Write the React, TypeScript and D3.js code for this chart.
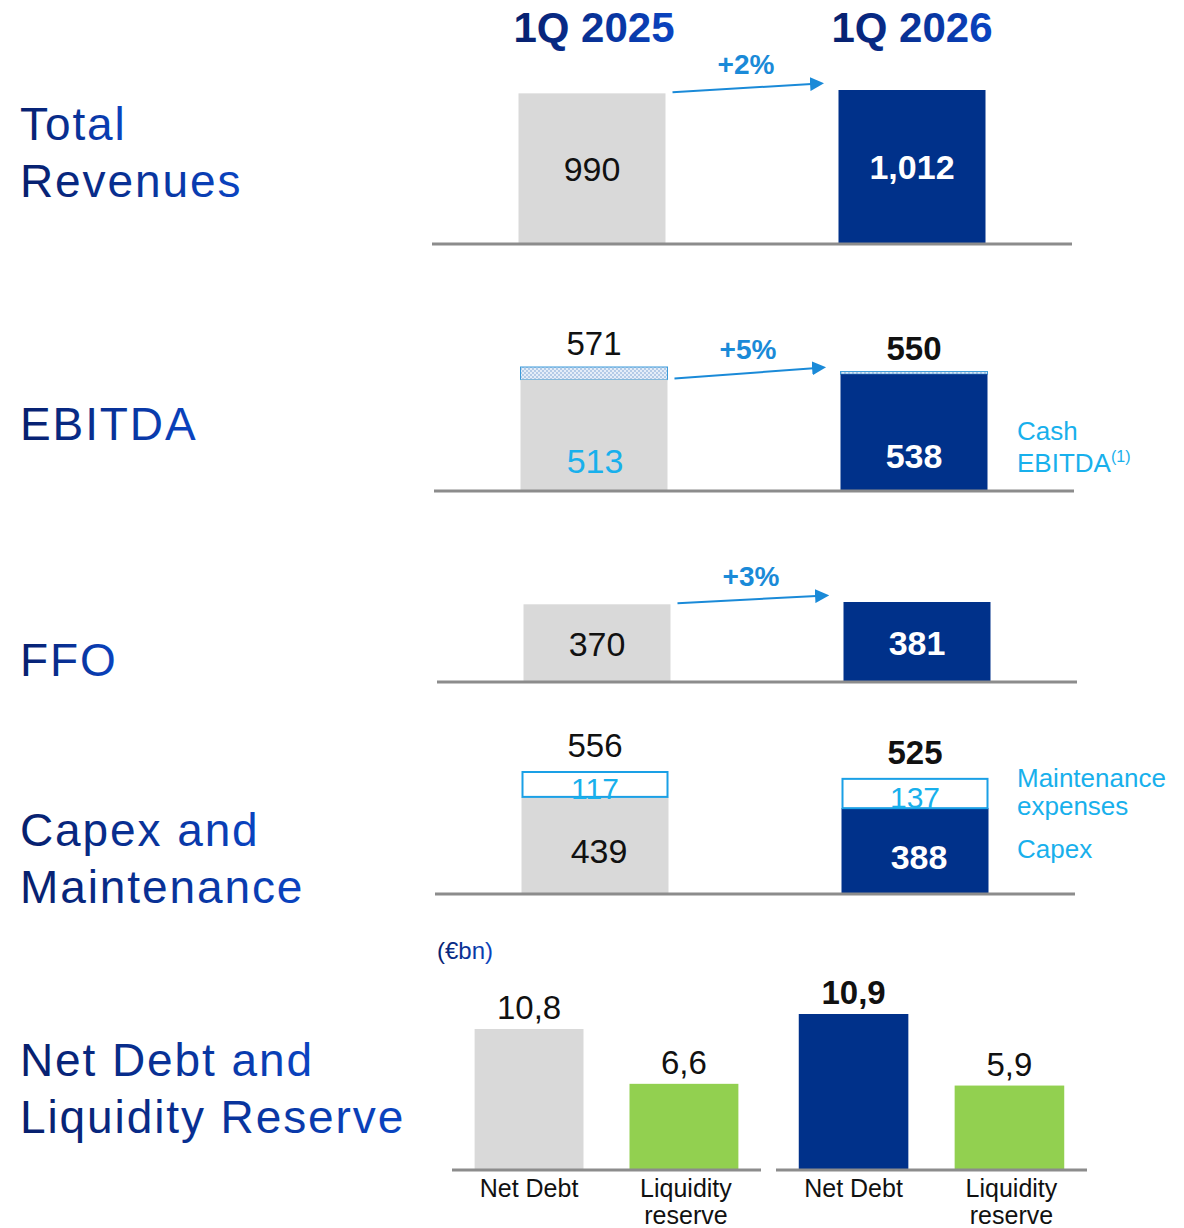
import React from "react";
import * as d3 from "d3";

// ---------- data ----------
const periods = ["1Q 2025", "1Q 2026"];
const revenue = [990, 1012];
const ebitda = [571, 550];
const cashEbitda = [513, 538];
const ffo = [370, 381];
const capexTotal = [556, 525];
const capex = [439, 388];
const maintenance = [117, 137];
const growthLabels = ["+2%", "+5%", "+3%"];
const debtCategories = ["Net Debt", "Liquidity reserve"];
const debt2025 = [10.8, 6.6];
const debt2026 = [10.9, 5.9];
const sectionTitles = [
  ["Total", "Revenues"],
  ["EBITDA"],
  ["FFO"],
  ["Capex and", "Maintenance"],
  ["Net Debt and", "Liquidity Reserve"],
];

// ---------- style ----------
const W = 1184;
const H = 1228;
const GRAY = "#d9d9d9";
const NAVY = "#00318a";
const GREEN = "#92d050";
const LIGHT = "#18b0ec";
const ARROW = "#1a8ad8";
const AXIS = "#8c8c8c";
const FONT = "'Liberation Sans', Arial, sans-serif";
const BAR_W = 147;

const fmtThousands = d3.format(",");
const euLocale = d3.formatLocale({ decimal: ",", thousands: ".", grouping: [3], currency: ["€", ""] });
const fmtDebt = euLocale.format(".1f");

type Panel = { base: number; top: number; dx: number; max: number };

function xScale(dx: number) {
  return d3.scalePoint<string>().domain(periods).range([593 + dx, 913 + dx]);
}

function Axis({ x, base }: { x: d3.ScalePoint<string>; base: number }) {
  const a = x(periods[0])! - 160;
  const b = x(periods[1])! + 160;
  return <line x1={a} x2={b} y1={base} y2={base} stroke={AXIS} strokeWidth={3} />;
}

function Growth({ x1, y1, x2, y2, label }: { x1: number; y1: number; x2: number; y2: number; label: string }) {
  return (
    <g>
      <line x1={x1} y1={y1} x2={x2} y2={y2} stroke={ARROW} strokeWidth={2} markerEnd="url(#arrowHead)" />
      <text x={(x1 + x2) / 2 + 4} y={(y1 + y2) / 2 - 14} textAnchor="middle" fontFamily={FONT} fontWeight="bold" fontSize={28} fill={ARROW}>
        {label}
      </text>
    </g>
  );
}

function App() {
  // Revenues
  const pRev: Panel = { base: 244, top: 90, dx: -1, max: 1012 };
  const xRev = xScale(pRev.dx);
  const yRev = d3.scaleLinear().domain([0, pRev.max]).range([pRev.base, pRev.top]);

  // EBITDA
  const pEb: Panel = { base: 491, top: 367, dx: 1, max: 571 };
  const xEb = xScale(pEb.dx);
  const yEb = d3.scaleLinear().domain([0, pEb.max]).range([pEb.base, pEb.top]);

  // FFO
  const pFfo: Panel = { base: 682, top: 602, dx: 4, max: 381 };
  const xFfo = xScale(pFfo.dx);
  const yFfo = d3.scaleLinear().domain([0, pFfo.max]).range([pFfo.base, pFfo.top]);

  // Capex
  const pCap: Panel = { base: 894, top: 771, dx: 2, max: 556 };
  const xCap = xScale(pCap.dx);
  const yCap = d3.scaleLinear().domain([0, pCap.max]).range([pCap.base, pCap.top]);

  // Debt
  const debtBase = 1170;
  const xDebtL = d3.scaleBand<string>().domain(debtCategories).range([452, 761]).paddingInner(0.297).paddingOuter(0.146);
  const xDebtR = d3.scaleBand<string>().domain(debtCategories).range([776, 1087]).paddingInner(0.297).paddingOuter(0.146);
  const yDebtL = d3.scaleLinear().domain([0, 10.8]).range([debtBase, 1029]);
  const yDebtR = d3.scaleLinear().domain([0, 10.9]).range([debtBase, 1014]);

  const barFill = (i: number) => (i === 0 ? GRAY : NAVY);
  const valFill = (i: number) => (i === 0 ? "#111" : "#fff");
  const valWeight = (i: number) => (i === 0 ? "normal" : "bold");

  const titleY = [[140, 197], [440], [676], [846, 903], [1076, 1133]];

  const arrow = (x: d3.ScalePoint<string>, ya: number, yb: number, label: string) => (
    <Growth
      x1={x(periods[0])! + BAR_W / 2 + 7}
      y1={ya - 1}
      x2={x(periods[1])! - BAR_W / 2 - 27}
      y2={yb - 6}
      label={label}
    />
  );

  return (
    <svg width={W} height={H} style={{ position: "absolute", left: 0, top: 0, background: "#fff" }}>
      <defs>
        <linearGradient id="navyText" x1="0" x2="1" y1="0" y2="0">
          <stop offset="0" stopColor="#071f6c" />
          <stop offset="1" stopColor="#0a44c2" />
        </linearGradient>
        <pattern id="dots" width="4" height="4" patternUnits="userSpaceOnUse">
          <rect width="4" height="4" fill="#e4edf8" />
          <circle cx="1" cy="1" r="0.9" fill="#9dbbe0" />
          <circle cx="3" cy="3" r="0.9" fill="#9dbbe0" />
        </pattern>
        <marker id="arrowHead" viewBox="0 0 10 10" refX="1" refY="5" markerWidth="7" markerHeight="7" orient="auto" markerUnits="strokeWidth">
          <path d="M0,0 L10,5 L0,10 Z" fill={ARROW} />
        </marker>
      </defs>

      {/* section titles */}
      {sectionTitles.map((lines, i) =>
        lines.map((t, j) => (
          <text key={`${i}-${j}`} x={20} y={titleY[i][j]} fontFamily={FONT} fontSize={46} letterSpacing={1.9} fill="url(#navyText)">
            {t}
          </text>
        ))
      )}

      {/* headers */}
      {periods.map((p, i) => (
        <text key={p} x={xRev(p)! + (i === 0 ? 2 : 0)} y={42} textAnchor="middle" fontFamily={FONT} fontWeight="bold" fontSize={42} fill="url(#navyText)">
          {p}
        </text>
      ))}

      {/* ---- Revenues ---- */}
      {revenue.map((v, i) => (
        <g key={`rev${i}`}>
          <rect x={xRev(periods[i])! - BAR_W / 2} y={yRev(v)} width={BAR_W} height={pRev.base - yRev(v)} fill={barFill(i)} />
          <text x={xRev(periods[i])!} y={(yRev(v) + pRev.base) / 2 + 12} textAnchor="middle" fontFamily={FONT} fontSize={34} fontWeight={valWeight(i)} fill={valFill(i)}>
            {fmtThousands(v)}
          </text>
        </g>
      ))}
      <Axis x={xRev} base={pRev.base} />
      {arrow(xRev, yRev(revenue[0]), yRev(revenue[1]), growthLabels[0])}

      {/* ---- EBITDA ---- */}
      {ebitda.map((v, i) => {
        const cx = xEb(periods[i])!;
        const c = cashEbitda[i];
        return (
          <g key={`eb${i}`}>
            <rect x={cx - BAR_W / 2} y={yEb(v)} width={BAR_W} height={yEb(c) - yEb(v)} fill="url(#dots)" stroke="#3a9ad9" strokeWidth={1} />
            <rect x={cx - BAR_W / 2} y={yEb(c)} width={BAR_W} height={pEb.base - yEb(c)} fill={barFill(i)} />
            <text x={cx} y={yEb(v) - 12} textAnchor="middle" fontFamily={FONT} fontSize={33} fontWeight={valWeight(i)} fill="#111">
              {fmtThousands(v)}
            </text>
            <text x={cx + (i === 0 ? 1 : 0)} y={pEb.base - 20 + (i === 0 ? 2 : -3)} textAnchor="middle" fontFamily={FONT} fontSize={34} fontWeight={valWeight(i)} fill={i === 0 ? LIGHT : "#fff"}>
              {fmtThousands(c)}
            </text>
          </g>
        );
      })}
      <Axis x={xEb} base={pEb.base} />
      {arrow(xEb, yEb(cashEbitda[0]), yEb(cashEbitda[1]), growthLabels[1])}
      <text x={1017} y={440} fontFamily={FONT} fontSize={26} fill={LIGHT}>Cash</text>
      <text x={1017} y={472} fontFamily={FONT} fontSize={26} fill={LIGHT}>
        EBITDA<tspan fontSize={16} dy={-10}>(1)</tspan>
      </text>

      {/* ---- FFO ---- */}
      {ffo.map((v, i) => (
        <g key={`ffo${i}`}>
          <rect x={xFfo(periods[i])! - BAR_W / 2} y={yFfo(v)} width={BAR_W} height={pFfo.base - yFfo(v)} fill={barFill(i)} />
          <text x={xFfo(periods[i])!} y={(yFfo(v) + pFfo.base) / 2 + 13} textAnchor="middle" fontFamily={FONT} fontSize={34} fontWeight={valWeight(i)} fill={valFill(i)}>
            {fmtThousands(v)}
          </text>
        </g>
      ))}
      <Axis x={xFfo} base={pFfo.base} />
      {arrow(xFfo, yFfo(ffo[0]), yFfo(ffo[1]), growthLabels[2])}

      {/* ---- Capex ---- */}
      {capexTotal.map((v, i) => {
        const cx = xCap(periods[i])!;
        const c = capex[i];
        const m = maintenance[i];
        const yTop = yCap(c + m);
        return (
          <g key={`cap${i}`}>
            <rect x={cx - BAR_W / 2} y={yCap(c)} width={BAR_W} height={pCap.base - yCap(c)} fill={barFill(i)} />
            <rect x={cx - BAR_W / 2 + 1} y={yTop + 1} width={BAR_W - 2} height={yCap(c) - yTop - 1} fill="#fff" stroke="#1aa0e6" strokeWidth={2} />
            <text x={cx} y={yTop - 14} textAnchor="middle" fontFamily={FONT} fontSize={33} fontWeight={valWeight(i)} fill="#111">
              {fmtThousands(v)}
            </text>
            <text x={cx} y={(yTop + yCap(c)) / 2 + 15} textAnchor="middle" fontFamily={FONT} fontSize={30} fill={LIGHT}>
              {fmtThousands(m)}
            </text>
            <text x={cx + 4} y={(yCap(c) + pCap.base) / 2 + 18} textAnchor="middle" fontFamily={FONT} fontSize={34} fontWeight={valWeight(i)} fill={valFill(i)}>
              {fmtThousands(c)}
            </text>
          </g>
        );
      })}
      <Axis x={xCap} base={pCap.base} />
      <text x={1017} y={787} fontFamily={FONT} fontSize={26} fill={LIGHT}>Maintenance</text>
      <text x={1017} y={815} fontFamily={FONT} fontSize={26} fill={LIGHT}>expenses</text>
      <text x={1017} y={858} fontFamily={FONT} fontSize={26} fill={LIGHT}>Capex</text>

      {/* ---- Net debt & liquidity ---- */}
      <text x={437} y={959} fontFamily={FONT} fontSize={24} fill="url(#navyText)">(€bn)</text>
      {[
        { vals: debt2025, x: xDebtL, y: yDebtL, yr: 0 },
        { vals: debt2026, x: xDebtR, y: yDebtR, yr: 1 },
      ].map((g) => (
        <g key={`debt${g.yr}`}>
          {g.vals.map((v, i) => {
            const cat = debtCategories[i];
            const x0 = g.x(cat)!;
            const bw = g.x.bandwidth();
            const fill = i === 1 ? GREEN : g.yr === 0 ? GRAY : NAVY;
            const words = cat === "Net Debt" ? [cat] : cat.split(" ");
            return (
              <g key={cat}>
                <rect x={x0} y={g.y(v)} width={bw} height={debtBase - g.y(v)} fill={fill} />
                <text x={x0 + bw / 2} y={g.y(v) - 10} textAnchor="middle" fontFamily={FONT} fontSize={33} fontWeight={g.yr === 1 && i === 0 ? "bold" : "normal"} fill="#111">
                  {fmtDebt(v)}
                </text>
                {words.map((w, k) => (
                  <text key={w} x={x0 + bw / 2 + (i === 1 ? 2 : 0)} y={1197 + k * 27} textAnchor="middle" fontFamily={FONT} fontSize={25} fill="#111">
                    {w}
                  </text>
                ))}
              </g>
            );
          })}
          <line x1={g.x.range()[0]} x2={g.x.range()[1]} y1={debtBase} y2={debtBase} stroke={AXIS} strokeWidth={3} />
        </g>
      ))}
    </svg>
  );
}

export default App;
